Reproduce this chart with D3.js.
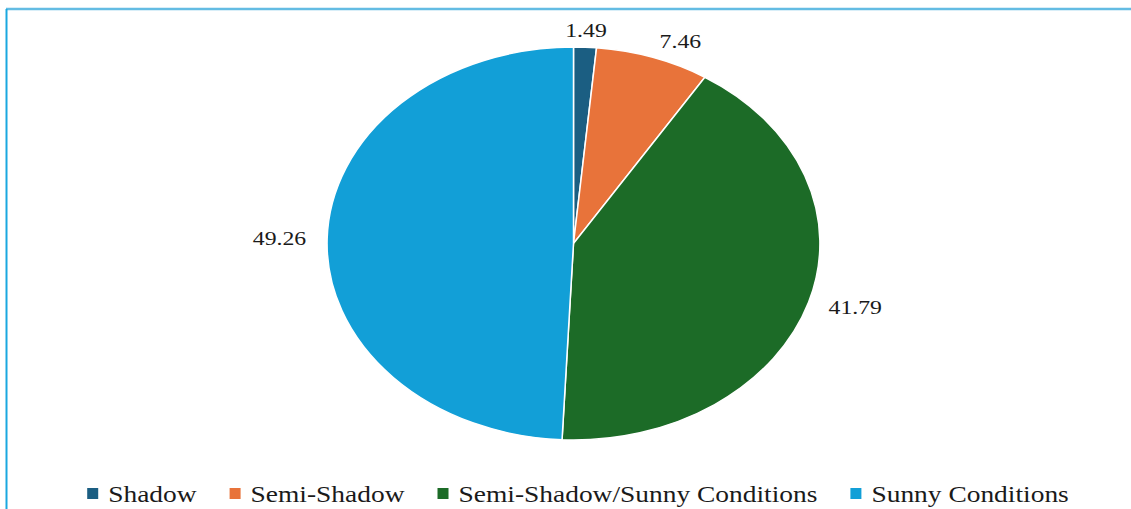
<!DOCTYPE html>
<html>
<head>
<meta charset="utf-8">
<script src="https://cdn.jsdelivr.net/npm/d3@7"></script>
<style>
  html, body { margin: 0; padding: 0; background: #fff; }
  svg { display: block; }
</style>
</head>
<body>
<div id="chart"></div>
<script>
// data
const categories = ["Shadow", "Semi-Shadow", "Semi-Shadow/Sunny Conditions", "Sunny Conditions"];
const values = [1.49, 7.46, 41.79, 49.26];
const colors = ["#1B5E82", "#E8733A", "#1C6B27", "#129FD7"];

const W = 1131, H = 509;
const cx = 573.5, cy = 243.5;
const ry = 196.5, sx = 1.254; // picture is stretched horizontally

const svg = d3.select("#chart").append("svg")
    .attr("width", W)
    .attr("height", H);

// frame lines
svg.append("line")
    .attr("x1", 6).attr("x2", W).attr("y1", 9).attr("y2", 9)
    .attr("stroke", "#63BCE3").attr("stroke-width", 2.5);
svg.append("line")
    .attr("x1", 6.5).attr("x2", 6.5).attr("y1", 9).attr("y2", H)
    .attr("stroke", "#1AA8E0").attr("stroke-width", 2);

const pie = d3.pie().sort(null).value(d => d);
const arcs = pie(values);
const arc = d3.arc().innerRadius(0).outerRadius(ry);

const g = svg.append("g")
    .attr("transform", `translate(${cx},${cy}) scale(${sx},1)`);

g.selectAll("path")
    .data(arcs)
  .enter().append("path")
    .attr("d", arc)
    .attr("fill", (d, i) => colors[i])
    .attr("stroke", "#fff")
    .attr("stroke-width", 1.5)
    .attr("vector-effect", "non-scaling-stroke");

// value labels outside the slices
const k = 1.085;
arcs.forEach((d, i) => {
    const a = (d.startAngle + d.endAngle) / 2;
    const s = Math.sin(a);
    const x = cx + ry * sx * k * s;
    const y = cy - ry * k * Math.cos(a);
    const anchor = Math.abs(s) < 0.15 ? "middle" : (s > 0 ? "start" : "end");
    svg.append("text")
        .attr("transform", `translate(${x},${y + 6.5}) scale(1.25,1)`)
        .attr("text-anchor", anchor)
        .style("font-family", "'Liberation Serif', serif")
        .style("font-size", "19px")
        .style("fill", "#1a1a1a")
        .text(values[i]);
});

// legend
const legendScale = 1.22;
const legend = svg.append("g");
const items = legend.selectAll("g")
    .data(categories)
  .enter().append("g");

items.append("rect")
    .attr("width", 11).attr("height", 11)
    .attr("y", -13.5)
    .attr("fill", (d, i) => colors[i]);

const texts = items.append("text")
    .attr("transform", `translate(21,0) scale(${legendScale},1)`)
    .style("font-family", "'Liberation Serif', serif")
    .style("font-size", "22.5px")
    .style("fill", "#1a1a1a")
    .text(d => d);

let xPos = 0;
const gap = 33;
items.each(function(d, i) {
    const tw = texts.nodes()[i].getComputedTextLength() * legendScale;
    d3.select(this).attr("transform", `translate(${xPos},0)`);
    xPos += 21 + tw + gap;
});
const totalW = xPos - gap;
legend.attr("transform", `translate(${578 - totalW / 2},501.5)`);
</script>
</body>
</html>
